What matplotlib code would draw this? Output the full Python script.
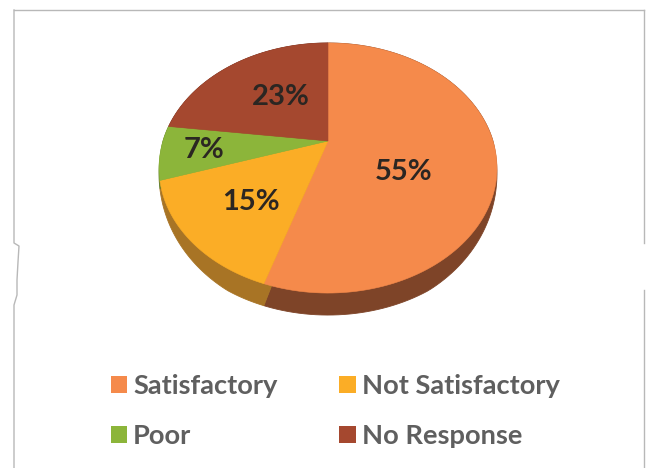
import numpy as np
import matplotlib
matplotlib.use("Agg")
import matplotlib.pyplot as plt
from matplotlib.patches import PathPatch, Patch
from matplotlib.path import Path
from matplotlib.transforms import Affine2D

labels = ["Satisfactory", "Not Satisfactory", "Poor", "No Response"]
values = [55, 15, 7, 23]
colors = ["#f58a4b", "#fbad26", "#8cb53a", "#a5482f"]
wall_colors = ["#7e4428", "#a87425", "#5c7a26", "#6e3020"]
label_pos = [(404, 172), (251, 202), (204, 150), (281, 97)]

W, H = 646, 468
APEX = (328, 141)
A, B, K = 165, 119.2, 0.216   # perspective of the tilted disc
DEPTH = 22

plt.rcParams["font.family"] = ["Lato", "DejaVu Sans"]

fig = plt.figure(figsize=(W / 100, H / 100), dpi=100)
ax = fig.add_axes([0, 0, 1, 1])

# let pie work out the wedges, then tilt them
wedges, _ = ax.pie(values, colors=colors, startangle=90, counterclock=False, radius=1)
paths = []
for w in wedges:
    p = w.get_path().transformed(w.get_patch_transform())
    paths.append(p)
    w.remove()
ax.set_aspect("auto")
ax.set_xlim(0, W)
ax.set_ylim(H, 0)
ax.axis("off")


def tilt(path, wall=False):
    # scale up before flattening so the curve stays smooth
    big = path.transformed(Affine2D().scale(2000))
    v = big.to_polygons(closed_only=True)[0] / 2000
    d = 1 + K * v[:, 1]
    x = APEX[0] + A * v[:, 0] / d
    y = APEX[1] - B * v[:, 1] / d
    if wall:
        # the side of the disc only shows along the front, and thins out at the ends
        y = y + DEPTH * np.clip(-v[:, 1] * 1.15, 0, 1)
    return Path(np.column_stack([x, y]))


for p, c in zip(paths, wall_colors):
    ax.add_patch(PathPatch(tilt(p, True), facecolor=c, edgecolor=c, lw=0.6))
for p, c in zip(paths, colors):
    ax.add_patch(PathPatch(tilt(p), facecolor=c, edgecolor=c, lw=0.4))

for v, (x, y) in zip(values, label_pos):
    ax.text(x, y, "%d%%" % v, ha="center", va="center", fontsize=21,
            fontweight="bold", color="#2b2622")

# frame of the chart, scanned so it is broken in places
frame = "#b8b8b8"
ax.plot([14, 14, 19, 18, 17, 17, 14, 14], [10, 243, 246, 262, 280, 295, 305, 468], color=frame, lw=1)
ax.plot([14, 644], [10, 10], color=frame, lw=1)
ax.plot([644, 644], [10, 243], color=frame, lw=1)
ax.plot([644, 644], [290, 468], color=frame, lw=1)

# legend fills by column, the reference reads by row
order = [0, 2, 1, 3]
handles = [Patch(facecolor=colors[i], edgecolor="none") for i in order]
leg = ax.legend(handles, [labels[i] for i in order], ncol=2, loc="upper left",
                bbox_to_anchor=(111 / W, 1 - 374 / H), bbox_transform=fig.transFigure,
                frameon=False, fontsize=19.6, handlelength=0.59, handleheight=0.62,
                handletextpad=0.22, columnspacing=2.28, labelspacing=0.96,
                borderpad=0, borderaxespad=0, labelcolor="#5f5f5f")
for t in leg.get_texts():
    t.set_fontweight("bold")

fig.savefig("out.png", dpi=100, facecolor="white")
